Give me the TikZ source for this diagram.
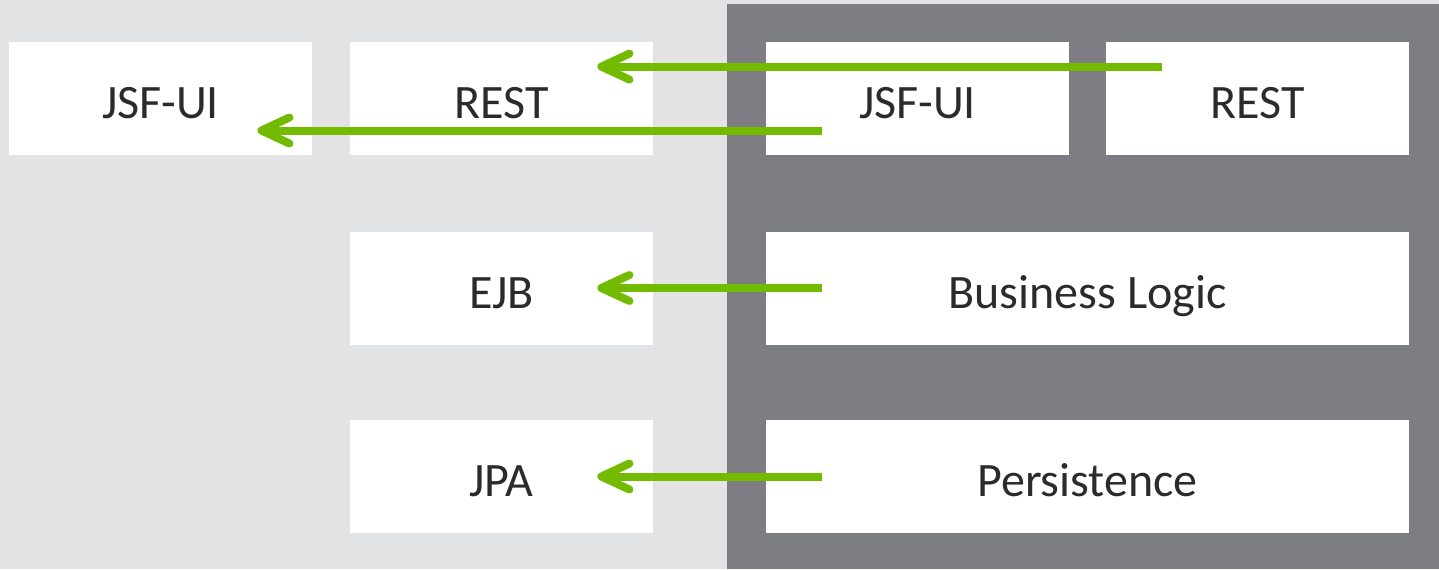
\documentclass[tikz,border=0pt]{standalone}
\usepackage{fontspec}
\setmainfont{Carlito}
\usetikzlibrary{arrows.meta,calc}
\definecolor{pagebg}{HTML}{E2E3E5}
\definecolor{panelbg}{HTML}{7D7E83}
\definecolor{flowgreen}{HTML}{72BB00}
\definecolor{labeltext}{HTML}{2B2B2B}
\tikzset{
  block/.style={fill=white, draw=none, inner sep=0pt, minimum height=56.5pt,
    text height=21pt, text depth=1pt,
    font=\fontsize{24}{28}\selectfont, text=labeltext},
  narrow/.style={block, minimum width=151.5pt},
  wide/.style={block, minimum width=321.5pt},
  flow/.style={draw=flowgreen, line width=4pt,
    -{Straight Barb[length=14pt,width=13pt,line cap=round,line join=round]}},
}
\begin{document}
\begin{tikzpicture}[x=0.5pt, y=-0.5pt]
  % backgrounds
  \fill[pagebg] (0,0) rectangle (1439,569);
  \fill[panelbg] (727,4) rectangle (1439,569);
  \useasboundingbox (0,0) rectangle (1439,569);

  % left column: Java EE
  \node[narrow] (jsfL)  at (160.5,98.5) {JSF-UI};
  \node[narrow] (restL) at (501.5,98.5) {REST};
  \node[narrow] (ejb)   at (501.5,288)  {EJB};
  \node[narrow] (jpa)   at (501.5,476.5) {JPA};

  % right panel: application layers
  \node[narrow] (jsfR)  at (917.5,98.5)  {JSF-UI};
  \node[narrow] (restR) at (1257.5,98.5) {REST};
  \node[wide]   (biz)   at (1087.5,288)  {Business Logic};
  \node[wide]   (pers)  at (1087.5,476.5) {Persistence};

  % mappings
  \draw[flow] ($(restR.north west)+(56,25)$) -- ($(restL.north east)+(-56,25)$);
  \draw[flow] ($(jsfR.west)+(56,32)$) -- ($(jsfL.east)+(-55,32)$);
  \draw[flow] ($(biz.west)+(56,0)$) -- ($(ejb.east)+(-56,0)$);
  \draw[flow] ($(pers.west)+(56,0)$) -- ($(jpa.east)+(-56,0)$);
\end{tikzpicture}
\end{document}
